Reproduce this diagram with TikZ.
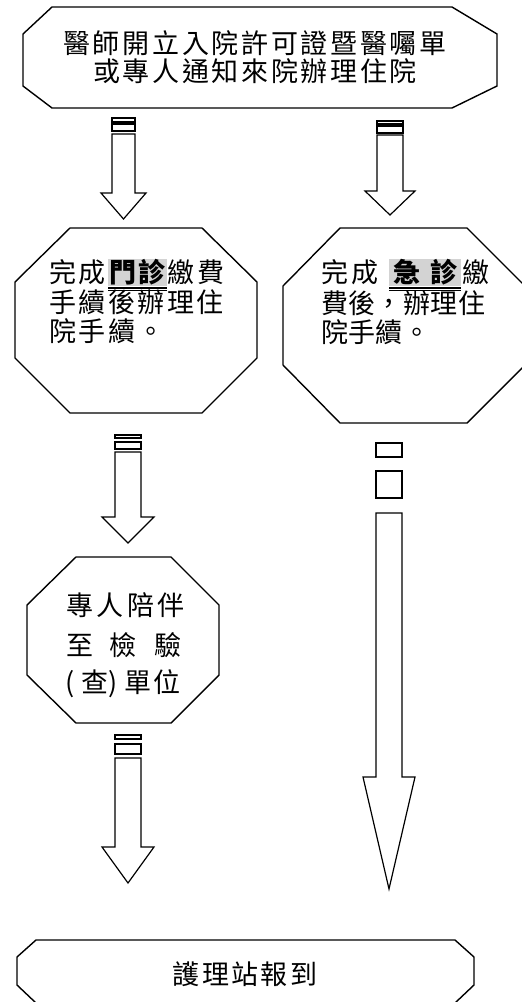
\documentclass[tikz,border=0pt]{standalone}
\usepackage{fontspec}
\newfontfamily\cjk{Noto Sans CJK TC}
\definecolor{hlgray}{RGB}{211,211,211}
\newsavebox\hlbox
\makeatletter
\newcommand\spc[2]{\@tfor\sp@ch:=#2\do{\sp@ch\hspace{#1}}\unskip}
\makeatother
\newcommand\hlt[1]{{\setlength\fboxsep{0pt}\sbox\hlbox{\colorbox{hlgray}{\rule[-4pt]{0pt}{27pt}#1}}\rlap{\rule[-6.8pt]{\wd\hlbox}{1.6pt}}\rlap{\rule[-9pt]{\wd\hlbox}{0.9pt}}\usebox\hlbox}}
\tikzset{
  shapeline/.style={draw=black, line width=1.4pt, line join=miter},
  arrowline/.style={draw=black, line width=1.2pt, line join=miter, fill=white},
  txt/.style={font=\cjk\fontsize{27}{30}\selectfont, inner sep=0pt, anchor=base west, text=black},
}
\begin{document}
\begin{tikzpicture}[x=1pt,y=-1pt]
\useasboundingbox (0,0) rectangle (522,1002);
\fill[white] (0,0) rectangle (522,1002);

% top box
\draw[shapeline] (52,7) -- (452,7) -- (497,34) -- (497,86) -- (452,108) -- (52,108) -- (23,86) -- (23,34) -- cycle;
\node[txt, anchor=base] (top1) at (255,53.5) {\spc{2.7pt}{醫師開立入院許可證暨醫囑單}};
\node[txt, anchor=base] (top2) at (255,81.5) {\spc{2.7pt}{或專人通知來院辦理住院}};

% left arrow 1
\draw[arrowline] (112,118) rectangle (135,122);
\draw[arrowline] (112,124) rectangle (135,131);
\draw[arrowline] (112,134) -- (135,134) -- (135,193) -- (146,193) -- (123.5,219) -- (101,193) -- (112,193) -- cycle;

% right arrow 2
\draw[arrowline] (377,121) rectangle (403,124);
\draw[arrowline] (377,126) rectangle (403,133);
\draw[arrowline] (377,135) -- (403,135) -- (403,191) -- (415,191) -- (390,215) -- (365,191) -- (377,191) -- cycle;

% left octagon
\draw[shapeline] (70,228) -- (202,228) -- (257,282) -- (257,358) -- (202,413) -- (70,413) -- (15,358) -- (15,282) -- cycle;
\node[txt] (out1) at (49,282) {\spc{2.5pt}{完成}\hspace{2.5pt}\hlt{\hspace{1pt}{\bfseries\spc{2.5pt}{門診}}\hspace{1pt}}\hspace{1pt}\spc{2.5pt}{繳費}};
\node[txt] (out2) at (49,312) {\spc{2.5pt}{手續後辦理住}};
\node[txt] (out3) at (49,341) {\spc{2.5pt}{院手續。}};

% right octagon
\draw[shapeline] (340,228) -- (467,228) -- (525,286) -- (525,365) -- (467,423) -- (340,423) -- (283,365) -- (283,286) -- cycle;
\node[txt] (er1) at (321,282) {完\hspace{3pt}成\hspace{11pt}\hlt{\hspace{4pt}{\bfseries 急\hspace{10pt}診}\hspace{4pt}}\hspace{1pt}繳};
\node[txt] (er2) at (321,313) {\spc{0.4pt}{費後，辦理住}};
\node[txt] (er3) at (321,342) {\spc{0.4pt}{院手續。}};

% left arrow 3
\draw[arrowline] (115,435) rectangle (141,438);
\draw[arrowline] (115,442) rectangle (141,449);
\draw[arrowline] (115,452) -- (141,452) -- (141,517) -- (154,517) -- (128,543) -- (102,517) -- (115,517) -- cycle;

% right long arrow 4
\draw[arrowline] (376,443) rectangle (402,457);
\draw[arrowline] (376,471) rectangle (402,498);
\draw[arrowline] (376,513) -- (402,513) -- (402,777) -- (415,777) -- (389,889) -- (363,777) -- (376,777) -- cycle;

% third octagon
\draw[shapeline] (76,557) -- (171,557) -- (219,605) -- (219,675) -- (171,723) -- (76,723) -- (27,675) -- (27,605) -- cycle;
\node[txt] (esc1) at (66,615.5) {\spc{3.5pt}{專人陪伴}};
\node[txt] (esc2) at (66,655.5) {至\hspace{16pt}檢\hspace{18pt}驗};
\node[txt] (esc3) at (65,692.5) {(\hspace{7pt}查\hspace{0pt})\hspace{7pt}單\hspace{2pt}位};

% left arrow 5
\draw[arrowline] (115,735) rectangle (141,739);
\draw[arrowline] (115,744) rectangle (141,754);
\draw[arrowline] (115,758) -- (141,758) -- (141,847) -- (154,847) -- (128,883) -- (102,847) -- (115,847) -- cycle;

% bottom box
\draw[shapeline] (36,940) -- (455,940) -- (474,957) -- (474,985) -- (455,1003) -- (36,1003) -- (17,985) -- (17,957) -- cycle;
\node[txt, anchor=base] (nurse) at (245,984.5) {\spc{2.3pt}{護理站報到}};
\end{tikzpicture}
\end{document}
